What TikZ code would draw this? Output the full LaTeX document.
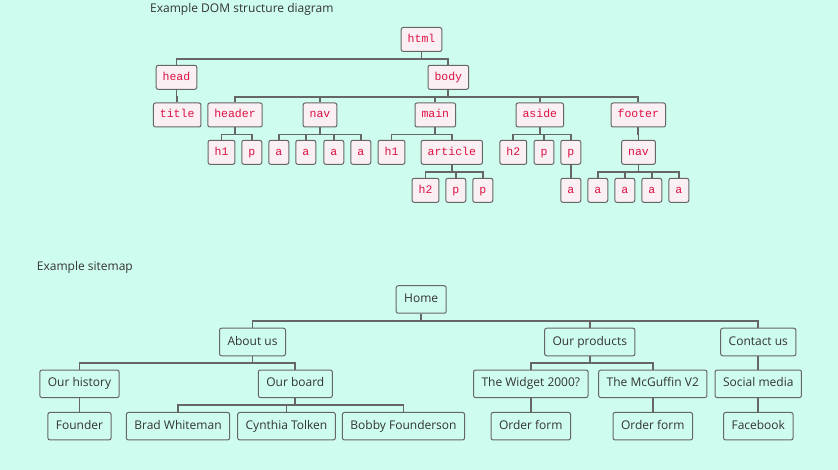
\documentclass[tikz,border=0pt]{standalone}
\usepackage{fontspec}
\setmainfont{Open Sans}
\newfontfamily\domfont{Liberation Mono}
\definecolor{bgc}{HTML}{CEFCEE}
\definecolor{linec}{HTML}{666666}
\definecolor{boxpink}{HTML}{FAF0F3}
\definecolor{codec}{HTML}{DD1144}
\definecolor{txtc}{HTML}{333333}
\tikzset{
  dom/.style={draw=linec, line width=1pt, fill=boxpink, rounded corners=2pt,
    text=codec, font=\domfont\fontsize{11.5}{12}\selectfont,
    minimum height=24pt, inner xsep=6.5pt, inner ysep=0pt,
    text height=8pt, text depth=2.5pt},
  site/.style={draw=linec, line width=1pt, rounded corners=2pt,
    text=txtc, font=\fontsize{12}{14}\selectfont,
    minimum height=27.5pt, inner xsep=8pt, inner ysep=0pt,
    text height=9pt, text depth=3pt},
  heading/.style={anchor=west, text=txtc, font=\fontsize{12}{14}\selectfont, inner sep=0pt,
    text height=9pt, text depth=3pt},
  conn/.style={draw=linec, line width=1.7pt},
}
\newcommand{\tlink}[2]{\draw[conn] (#1.south) -- ++(0,7) -| (#2.north);}
\begin{document}
\begin{tikzpicture}[x=1pt,y=-1pt]
\fill[bgc] (0,0) rectangle (838,470);
\useasboundingbox (0,0) rectangle (838,470);

% DOM tree
\node[heading] (t1) at (150,9.5) {Example DOM structure diagram};
\node[dom] (html) at (421.5,39.5) {html};
\node[dom] (head) at (176.5,77.3) {head};
\node[dom] (body) at (448.3,77.3) {body};
\node[dom] (title) at (177.2,115) {title};
\node[dom] (header) at (235,115) {header};
\node[dom] (nava) at (320,115) {nav};
\node[dom] (main) at (435.3,115) {main};
\node[dom] (aside) at (539.8,115) {aside};
\node[dom] (footer) at (638.3,115) {footer};
\node[dom] (h1a) at (221.5,152.3) {h1};
\node[dom] (pa) at (251.8,152.3) {p};
\node[dom] (a1) at (278.8,152.3) {a};
\node[dom] (a2) at (305.8,152.3) {a};
\node[dom] (a3) at (333.8,152.3) {a};
\node[dom] (a4) at (360.8,152.3) {a};
\node[dom] (h1b) at (391.5,152.3) {h1};
\node[dom] (article) at (451.8,152.3) {article};
\node[dom] (h2a) at (513.3,152.3) {h2};
\node[dom] (pb) at (544,152.3) {p};
\node[dom] (pc) at (570.8,152.3) {p};
\node[dom] (navb) at (638.5,152.3) {nav};
\node[dom] (h2b) at (425.5,190.3) {h2};
\node[dom] (pd) at (455.8,190.3) {p};
\node[dom] (pe) at (482.8,190.3) {p};
\node[dom] (a5) at (570.8,190.3) {a};
\node[dom] (a6) at (597.8,190.3) {a};
\node[dom] (a7) at (624.8,190.3) {a};
\node[dom] (a8) at (651.8,190.3) {a};
\node[dom] (a9) at (678.8,190.3) {a};

\tlink{html}{head} \tlink{html}{body}
\tlink{head}{title}
\tlink{body}{header} \tlink{body}{nava} \tlink{body}{main} \tlink{body}{aside} \tlink{body}{footer}
\tlink{header}{h1a} \tlink{header}{pa}
\tlink{nava}{a1} \tlink{nava}{a2} \tlink{nava}{a3} \tlink{nava}{a4}
\tlink{main}{h1b} \tlink{main}{article}
\tlink{article}{h2b} \tlink{article}{pd} \tlink{article}{pe}
\tlink{aside}{h2a} \tlink{aside}{pb} \tlink{aside}{pc}
\tlink{pc}{a5}
\tlink{footer}{navb}
\tlink{navb}{a6} \tlink{navb}{a7} \tlink{navb}{a8} \tlink{navb}{a9}

% Sitemap
\node[heading] (t2) at (36.7,267.7) {Example sitemap};
\node[site] (home) at (421.2,299.5) {Home};
\node[site] (about) at (252.5,342) {About us};
\node[site] (products) at (589.8,342) {Our products};
\node[site] (contact) at (758.3,342) {Contact us};
\node[site] (history) at (79.5,383.8) {Our history};
\node[site] (board) at (295.3,383.8) {Our board};
\node[site] (widget) at (530.8,383.8) {The Widget 2000?};
\node[site] (mcguffin) at (652.8,383.8) {The McGuffin V2};
\node[site] (social) at (758.3,383.8) {Social media};
\node[site] (founder) at (79.5,426.2) {Founder};
\node[site] (brad) at (178,426.2) {Brad Whiteman};
\node[site] (cynthia) at (286.5,426.2) {Cynthia Tolken};
\node[site] (bobby) at (403.5,426.2) {Bobby Founderson};
\node[site] (order1) at (530.8,426.2) {Order form};
\node[site] (order2) at (652.8,426.2) {Order form};
\node[site] (facebook) at (758.3,426.2) {Facebook};

\tlink{home}{about} \tlink{home}{products} \tlink{home}{contact}
\tlink{about}{history} \tlink{about}{board}
\tlink{history}{founder}
\tlink{board}{brad} \tlink{board}{cynthia} \tlink{board}{bobby}
\tlink{products}{widget} \tlink{products}{mcguffin}
\tlink{widget}{order1} \tlink{mcguffin}{order2}
\tlink{contact}{social} \tlink{social}{facebook}
\end{tikzpicture}
\end{document}
